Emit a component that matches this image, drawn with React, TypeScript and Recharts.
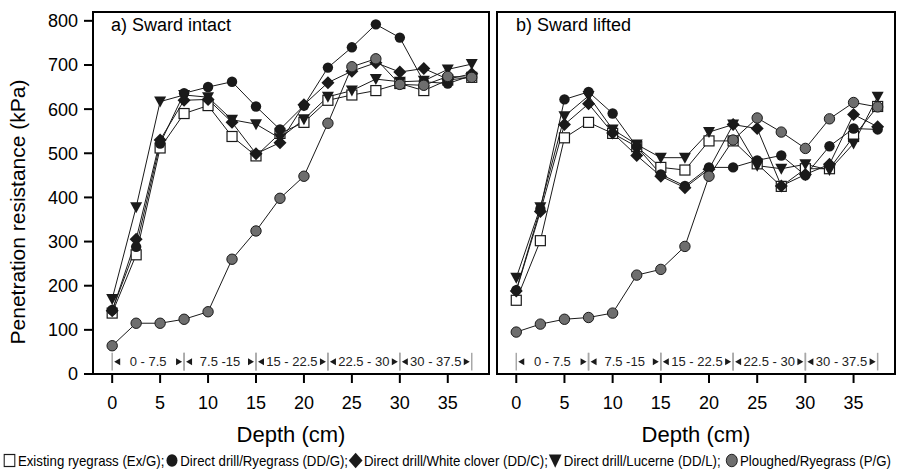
import { LineChart, Line, XAxis, YAxis, ReferenceArea } from 'recharts'

// depth of each reading (cm)
const depths = [0, 2.5, 5, 7.5, 10, 12.5, 15, 17.5, 20, 22.5, 25, 27.5, 30, 32.5, 35, 37.5]
const xTicks = [0, 5, 10, 15, 20, 25, 30, 35]
const yTicks = [0, 100, 200, 300, 400, 500, 600, 700, 800]
const depthRanges = [[0, 7.5], [7.5, 15], [15, 22.5], [22.5, 30], [30, 37.5]]
const depthRangeLabels = ['0 - 7.5', '7.5 -15', '15 - 22.5', '22.5 - 30', '30 - 37.5']

// a) Sward intact (kPa)
const intactExG = [138, 270, 512, 590, 608, 538, 494, 545, 570, 620, 632, 642, 658, 642, 666, 672]
const intactDDG = [145, 288, 522, 636, 650, 662, 606, 554, 608, 694, 740, 792, 762, 662, 658, 676]
const intactDDC = [143, 305, 530, 620, 622, 570, 499, 524, 610, 660, 686, 705, 684, 692, 668, 680]
const intactDDL = [170, 378, 617, 632, 627, 576, 566, 534, 577, 628, 642, 668, 662, 664, 690, 702]
const intactPG = [64, 115, 115, 124, 141, 260, 324, 398, 448, 568, 696, 714, 656, 654, 674, 672]

// b) Sward lifted (kPa)
const liftedExG = [167, 302, 535, 570, 545, 515, 468, 462, 528, 528, 476, 425, 465, 465, 538, 606]
const liftedDDG = [190, 374, 622, 639, 590, 515, 452, 426, 468, 468, 484, 495, 450, 516, 556, 554]
const liftedDDC = [188, 368, 565, 612, 546, 495, 448, 422, 464, 565, 556, 426, 452, 475, 588, 560]
const liftedDDL = [218, 378, 584, 630, 554, 520, 490, 490, 548, 565, 472, 465, 475, 462, 522, 628]
const liftedPG = [95, 113, 124, 128, 138, 224, 237, 289, 448, 530, 580, 548, 511, 578, 615, 605]

const seriesKeys = ['exg', 'ddg', 'ddc', 'ddl', 'pg']
const seriesMarkers = ['square', 'circle', 'diamond', 'triangle', 'gray']
const seriesLabels = [
  'Existing ryegrass (Ex/G);',
  'Direct drill/Ryegrass (DD/G);',
  'Direct drill/White clover (DD/C);',
  'Direct drill/Lucerne (DD/L);',
  'Ploughed/Ryegrass (P/G)',
]

const FONT = '"Liberation Sans", Arial, sans-serif'
const INK = '#1a1a1a'
const GREY = '#6e6e6e'

function buildRows(cols: number[][]) {
  return depths.map((d, i) => {
    const row: any = { depth: d }
    seriesKeys.forEach((k, j) => { row[k] = cols[j][i] })
    return row
  })
}

const intactRows = buildRows([intactExG, intactDDG, intactDDC, intactDDL, intactPG])
const liftedRows = buildRows([liftedExG, liftedDDG, liftedDDC, liftedDDL, liftedPG])

function Marker({ kind, cx, cy, s = 1 }: { kind: string; cx: number; cy: number; s?: number }) {
  if (cx == null || cy == null) return null
  switch (kind) {
    case 'square':
      return <rect x={cx - 5 * s} y={cy - 5 * s} width={10 * s} height={10 * s} fill="#fff" stroke={INK} strokeWidth={1.2} />
    case 'circle':
      return <circle cx={cx} cy={cy} r={5.2 * s} fill={INK} />
    case 'diamond':
      return <polygon points={`${cx},${cy - 6.5 * s} ${cx + 6.5 * s},${cy} ${cx},${cy + 6.5 * s} ${cx - 6.5 * s},${cy}`} fill={INK} />
    case 'triangle':
      return <polygon points={`${cx - 6 * s},${cy - 5 * s} ${cx + 6 * s},${cy - 5 * s} ${cx},${cy + 6 * s}`} fill={INK} />
    default:
      return <circle cx={cx} cy={cy} r={5.2 * s} fill={GREY} stroke={INK} strokeWidth={1} />
  }
}

const dotFor = (kind: string) => (p: any) => (
  <Marker key={`${kind}-${p.index}`} kind={kind} cx={p.cx} cy={p.cy} />
)

// separators, arrow heads and label for one depth band
function RangeBand(label: string) {
  return (p: any) => {
    const { x, y, width, height } = p
    const mid = y + height / 2
    return (
      <g>
        <line x1={x} y1={y} x2={x} y2={y + height} stroke="#a8a8a8" strokeWidth={1.5} />
        <line x1={x + width} y1={y} x2={x + width} y2={y + height} stroke="#a8a8a8" strokeWidth={1.5} />
        <polygon points={`${x + 2},${mid} ${x + 8},${mid - 3.5} ${x + 8},${mid + 3.5}`} fill={INK} />
        <polygon points={`${x + width - 2},${mid} ${x + width - 8},${mid - 3.5} ${x + width - 8},${mid + 3.5}`} fill={INK} />
        <text x={x + width / 2} y={mid + 4.5} textAnchor="middle" fontSize={13} fontFamily={FONT} fill="#222">{label}</text>
      </g>
    )
  }
}

function Panel({ rows, showYLabels, width, marginRight, yAxisWidth }: any) {
  const tickStyle = { fill: '#000', fontSize: 18, fontFamily: FONT }
  return (
    <LineChart width={width} height={448} data={rows} margin={{ top: 12, right: marginRight, bottom: 0, left: 0 }}>
      <XAxis
        dataKey="depth" type="number" domain={[-2, 39.3]} ticks={xTicks}
        tick={tickStyle} tickSize={9} tickMargin={13}
        axisLine={{ stroke: '#000', strokeWidth: 2 }} tickLine={{ stroke: '#000', strokeWidth: 2 }}
        height={74}
        label={{ value: 'Depth (cm)', position: 'insideBottom', offset: 6, fontSize: 22, fontFamily: FONT, fill: '#000' }}
      />
      <YAxis
        type="number" domain={[0, 820]} ticks={yTicks} allowDataOverflow
        width={yAxisWidth}
        tick={showYLabels ? tickStyle : false}
        tickFormatter={showYLabels ? undefined : () => ''}
        tickSize={9} tickMargin={6}
        axisLine={{ stroke: '#000', strokeWidth: 2 }} tickLine={{ stroke: '#000', strokeWidth: 2 }}
      />
      {depthRanges.map((r, i) => (
        <ReferenceArea key={i} x1={r[0]} x2={r[1]} y1={8} y2={48} shape={RangeBand(depthRangeLabels[i])} />
      ))}
      {seriesKeys.map((k, i) => (
        <Line
          key={k} dataKey={k} stroke={INK} strokeWidth={1}
          dot={dotFor(seriesMarkers[i])} activeDot={false}
          isAnimationActive={false}
        />
      ))}
      <ReferenceArea x1={-2} x2={39.3} y1={0} y2={820} fill="none" fillOpacity={0} stroke="#000" strokeWidth={2} />
    </LineChart>
  )
}

function LegendMarker({ kind }: { kind: string }) {
  return (
    <svg width={17} height={17} style={{ marginRight: 1 }}>
      <Marker kind={kind} cx={8.5} cy={8.5} s={1.2} />
    </svg>
  )
}

export default function App() {
  return (
    <div style={{ position: 'absolute', left: 0, top: 0, width: 906, height: 476, background: '#fff', fontFamily: FONT, overflow: 'hidden' }}>
      <div style={{ position: 'absolute', left: 0, top: 0 }}>
        <Panel rows={intactRows} showYLabels width={490} marginRight={1} yAxisWidth={93} />
      </div>
      <div style={{ position: 'absolute', left: 480, top: 0 }}>
        <Panel rows={liftedRows} showYLabels={false} width={426} marginRight={11} yAxisWidth={17} />
      </div>
      <div style={{ position: 'absolute', left: 111, top: 15, fontSize: 18, color: '#000' }}>a) Sward intact</div>
      <div style={{ position: 'absolute', left: 516, top: 15, fontSize: 18, color: '#000' }}>b) Sward lifted</div>
      <svg style={{ position: 'absolute', left: 0, top: 0 }} width={40} height={400}>
        <text x={25} y={212} transform="rotate(-90 25 212)" textAnchor="middle" fontSize={21} fontFamily={FONT} fill="#000">
          Penetration resistance (kPa)
        </text>
      </svg>
      <div style={{
        position: 'absolute', left: 2, top: 452, display: 'flex', alignItems: 'center', whiteSpace: 'nowrap',
        fontSize: 15, color: '#000', transform: 'scaleX(0.883)', transformOrigin: 'left center',
      }}>
        {seriesLabels.map((s, i) => (
          <span key={i} style={{ display: 'flex', alignItems: 'center', marginRight: i === 3 ? 4 : 0 }}>
            <LegendMarker kind={seriesMarkers[i]} />{s}
          </span>
        ))}
      </div>
    </div>
  )
}
